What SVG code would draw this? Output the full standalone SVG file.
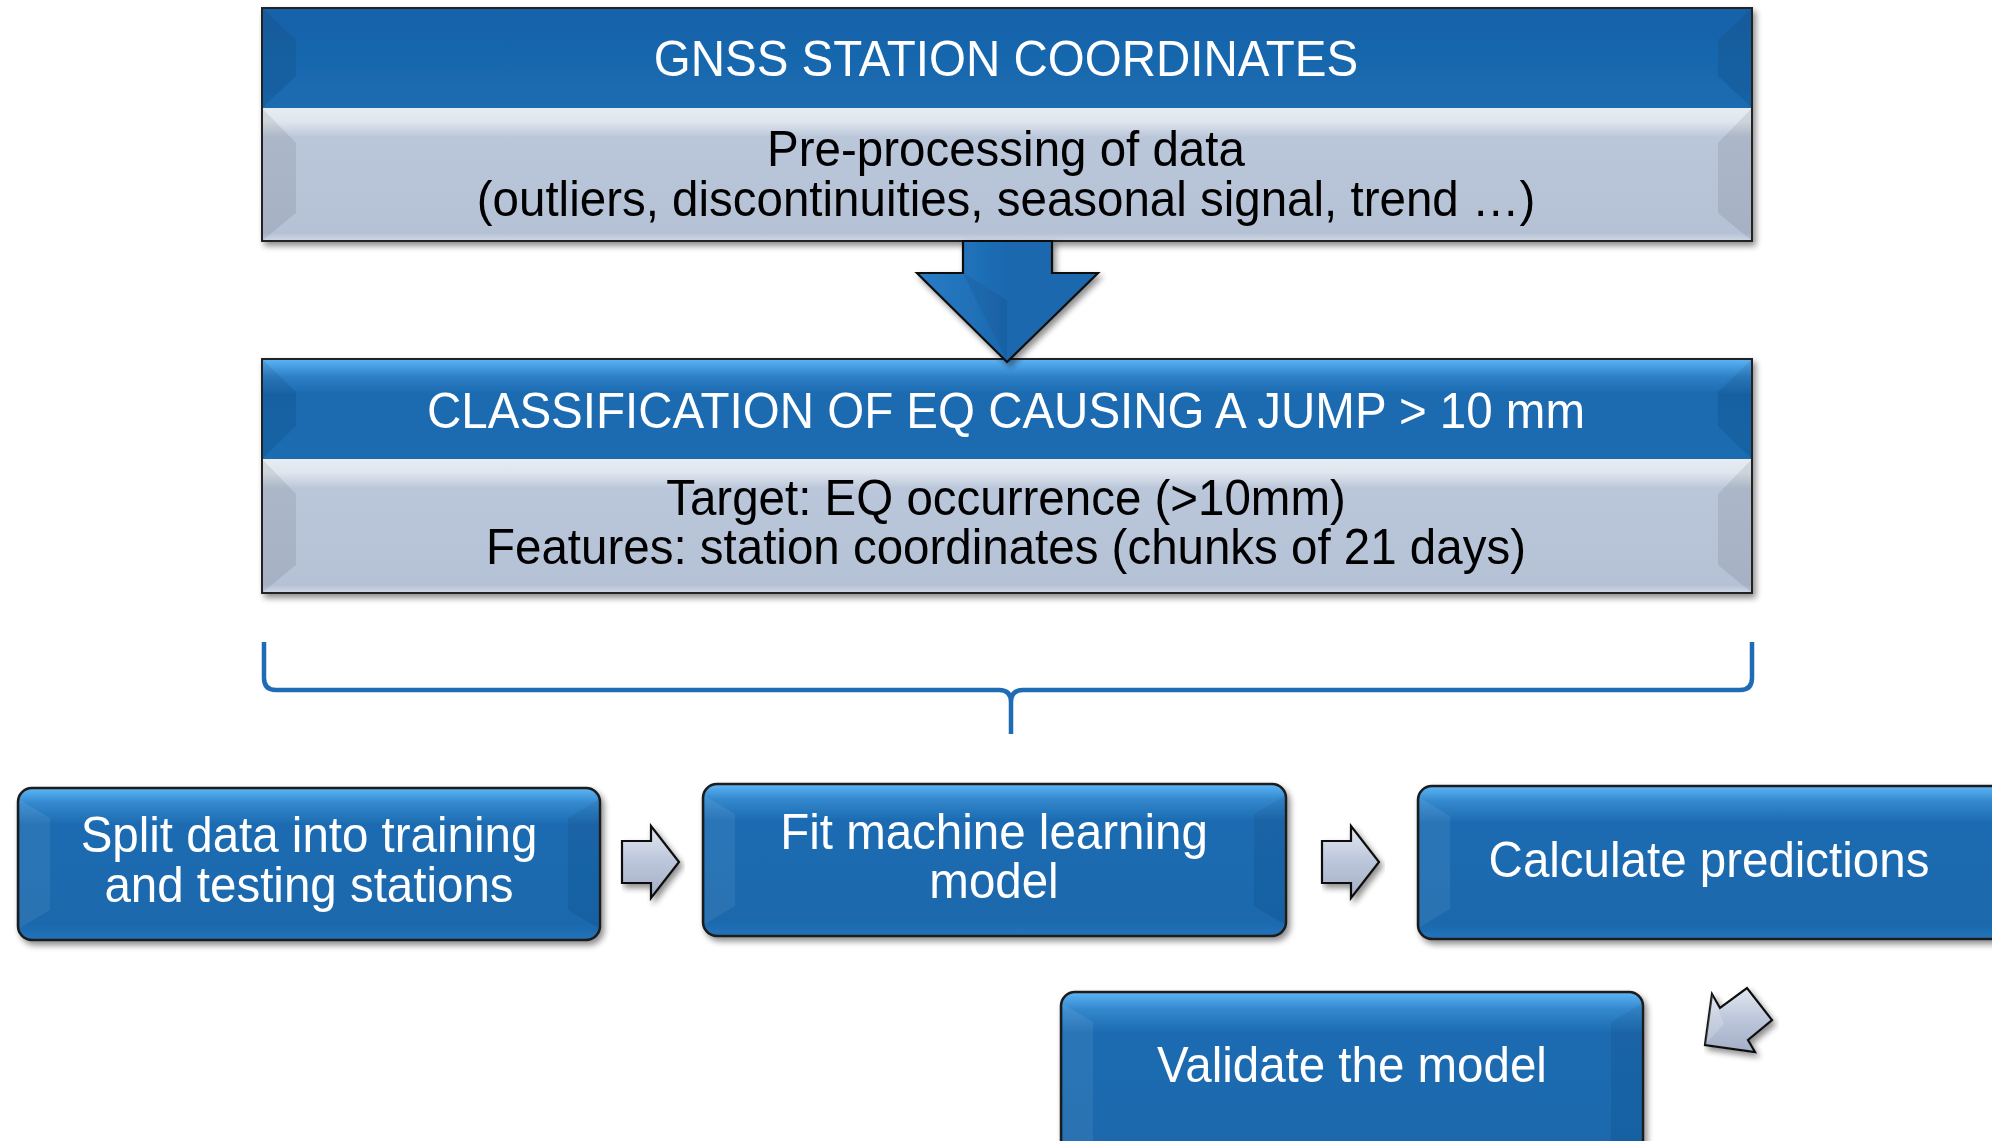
<svg xmlns="http://www.w3.org/2000/svg" width="1992" height="1141" viewBox="0 0 1992 1141">
<defs>
<linearGradient id="gHdr1" x1="0" y1="0" x2="0" y2="1">
<stop offset="0" stop-color="#1762aa"/><stop offset="1" stop-color="#1b6cb1"/>
</linearGradient>
<linearGradient id="gHdr2" x1="0" y1="0" x2="0" y2="1">
<stop offset="0" stop-color="#5bb5f7"/><stop offset="0.18" stop-color="#2d7fc6"/><stop offset="0.35" stop-color="#1b6ab0"/><stop offset="1" stop-color="#1b6cb1"/>
</linearGradient>
<linearGradient id="gBody" x1="0" y1="0" x2="0" y2="1">
<stop offset="0" stop-color="#e6ecf2"/><stop offset="0.1" stop-color="#e0e6ee"/><stop offset="0.22" stop-color="#bac6d9"/><stop offset="0.94" stop-color="#b5c1d5"/><stop offset="1" stop-color="#cfd7e3"/>
</linearGradient>
<linearGradient id="gBox" x1="0" y1="0" x2="0" y2="1">
<stop offset="0" stop-color="#5db6f8"/><stop offset="0.1" stop-color="#3488cd"/><stop offset="0.24" stop-color="#1c6bb1"/><stop offset="0.9" stop-color="#1a68ad"/><stop offset="1" stop-color="#2473b9"/>
</linearGradient>
<linearGradient id="gArr" x1="0" y1="0" x2="0" y2="1">
<stop offset="0" stop-color="#e2e8f2"/><stop offset="0.5" stop-color="#bcc6da"/><stop offset="1" stop-color="#a3afc7"/>
</linearGradient>
<linearGradient id="gDown" x1="0" y1="0" x2="1" y2="0">
<stop offset="0" stop-color="#2a7dc6"/><stop offset="0.5" stop-color="#1a68af"/><stop offset="1" stop-color="#1a68ae"/>
</linearGradient>
<filter id="sh" x="-5%" y="-10%" width="115%" height="130%">
<feGaussianBlur in="SourceAlpha" stdDeviation="3"/>
<feOffset dx="3" dy="4" result="b"/>
<feComponentTransfer><feFuncA type="linear" slope="0.45"/></feComponentTransfer>
<feMerge><feMergeNode/><feMergeNode in="SourceGraphic"/></feMerge>
</filter>
<path id="smallArr" d="M0,-21 H29 V-36 L57,0 L29,36 V21 H0 Z"/>
</defs>
<style>
.t{font-family:"Liberation Sans",Arial,sans-serif;font-size:47.5px;text-anchor:middle}
.w{fill:#ffffff}
.k{fill:#000000}
.frame{fill:none;stroke:#222;stroke-width:2}
.bx{fill:url(#gBox);stroke:#1a1a1a;stroke-width:2.5}
.bevD{fill:#000;opacity:0.08}
.bevL{fill:#fff;opacity:0.07}
.bevK{fill:#000;opacity:0.06}
.sa{fill:url(#gArr);stroke:#111;stroke-width:2.2;stroke-linejoin:miter}
.brace{fill:none;stroke:#1f6cb5;stroke-width:4.5;stroke-linejoin:round}
</style>
<rect width="1992" height="1141" fill="#ffffff"/>

<g id="node-gnss" filter="url(#sh)">
<rect x="262" y="8" width="1490" height="100" fill="url(#gHdr1)"/>
<rect x="262" y="108" width="1490" height="133" fill="url(#gBody)"/>
<polygon class="bevD" points="262,8 296,40 296,76 262,108"/>
<polygon class="bevD" points="1752,8 1718,40 1718,76 1752,108"/>
<polygon class="bevD" points="262,108 296,143 296,213 262,241"/>
<polygon class="bevD" points="1752,108 1718,143 1718,213 1752,241"/>
<rect class="frame" x="262" y="8" width="1490" height="233"/>
<text class="t w" transform="translate(1006,76) scale(1,1.05)">GNSS STATION COORDINATES</text>
<text class="t k" transform="translate(1006,166) scale(1,1.05)">Pre-processing of data</text>
<text class="t k" transform="translate(1006,216) scale(1,1.05)">(outliers, discontinuities, seasonal signal, trend …)</text>
</g>

<g id="node-classification" filter="url(#sh)">
<rect x="262" y="359" width="1490" height="100" fill="url(#gHdr2)"/>
<rect x="262" y="459" width="1490" height="134" fill="url(#gBody)"/>
<polygon class="bevD" points="262,359 296,392 296,426 262,459"/>
<polygon class="bevD" points="1752,359 1718,392 1718,426 1752,459"/>
<polygon class="bevD" points="262,459 296,494 296,565 262,593"/>
<polygon class="bevD" points="1752,459 1718,494 1718,565 1752,593"/>
<rect class="frame" x="262" y="359" width="1490" height="234"/>
<text class="t w" transform="translate(1006,428) scale(1,1.05)">CLASSIFICATION OF EQ CAUSING A JUMP &gt; 10 mm</text>
<text class="t k" transform="translate(1006,515) scale(1,1.05)">Target: EQ occurrence (&gt;10mm)</text>
<text class="t k" transform="translate(1006,564) scale(1,1.05)">Features: station coordinates (chunks of 21 days)</text>
</g>

<g id="node-split" filter="url(#sh)">
<rect class="bx" x="18" y="788" width="582" height="152" rx="14"/>
<polygon class="bevL" points="20,800 50,818 50,910 20,928"/>
<polygon class="bevK" points="598,800 568,818 568,910 598,928"/>
<text class="t w" transform="translate(309,852) scale(1,1.05)">Split data into training</text>
<text class="t w" transform="translate(309,902) scale(1,1.05)">and testing stations</text>
</g>

<g id="node-fit" filter="url(#sh)">
<rect class="bx" x="703" y="784" width="583" height="152" rx="14"/>
<polygon class="bevL" points="705,796 735,814 735,906 705,924"/>
<polygon class="bevK" points="1284,796 1254,814 1254,906 1284,924"/>
<text class="t w" transform="translate(994,849) scale(1,1.05)">Fit machine learning</text>
<text class="t w" transform="translate(994,898) scale(1,1.05)">model</text>
</g>

<g id="node-predict" filter="url(#sh)">
<rect class="bx" x="1418" y="786" width="600" height="153" rx="14"/>
<polygon class="bevL" points="1420,798 1450,816 1450,909 1420,927"/>
<text class="t w" transform="translate(1709,877) scale(1,1.05)">Calculate predictions</text>
</g>

<g id="node-validate" filter="url(#sh)">
<rect class="bx" x="1061" y="992" width="582" height="170" rx="14"/>
<polygon class="bevL" points="1063,1004 1093,1022 1093,1141 1063,1141"/>
<polygon class="bevK" points="1641,1004 1611,1022 1611,1141 1641,1141"/>
<text class="t w" transform="translate(1352,1082) scale(1,1.05)">Validate the model</text>
</g>

<g id="connectors">
<g filter="url(#sh)">
<polygon points="963,241 1052,241 1052,273 1098,273 1007,362 917,273 963,273" fill="url(#gDown)" stroke="#111" stroke-width="2.2"/>
<polygon points="1007,362 963,273 1007,300" fill="#000" opacity="0.06"/>
</g>
<path class="brace" d="M264,642 V678 Q264,690 276,690 H999 Q1011,690 1011,702 V734 M1011,702 Q1011,690 1023,690 H1740 Q1752,690 1752,678 V642"/>
<use href="#smallArr" class="sa" x="622" y="862" filter="url(#sh)"/>
<use href="#smallArr" class="sa" x="1322" y="862" filter="url(#sh)"/>
<g filter="url(#sh)">
<polygon class="sa" points="1705,1045 1712,994 1720,1008 1747,988 1772,1020 1748,1040 1755,1052"/>
<polygon points="1705,1045 1712,994 1724,1024" fill="#fff" opacity="0.18"/>
</g>
</g>
</svg>
